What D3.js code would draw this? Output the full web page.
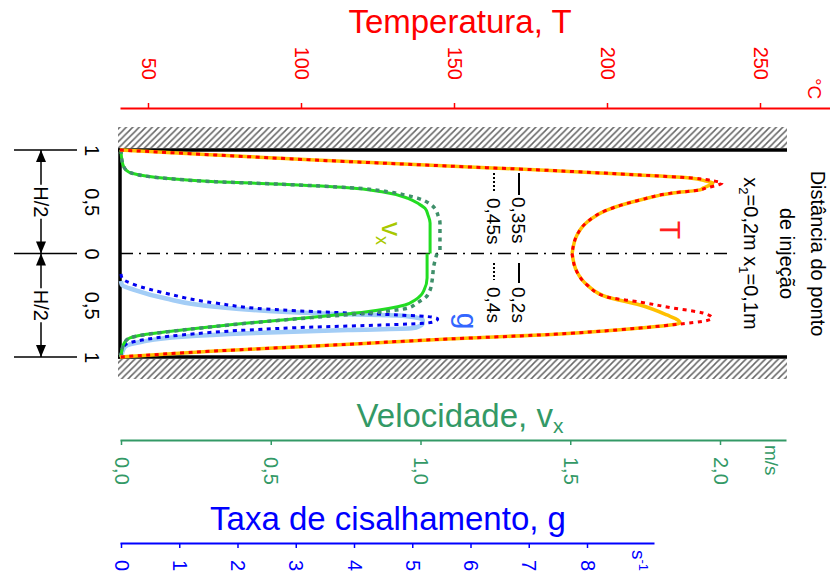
<!DOCTYPE html>
<html>
<head>
<meta charset="utf-8">
<script src="https://cdn.jsdelivr.net/npm/d3@7"></script>
<style>
body{margin:0;background:#fff}
svg{display:block;font-family:"Liberation Sans",Arial,sans-serif}
</style>
</head>
<body>
<div id="chart"></div>
<script>
// position across channel: 1 = upper wall, 0 = centre, -1 = lower wall
var posTicks = [1, 0.5, 0, -0.5, -1];
var posLabels = ["1", "0,5", "0", "0,5", "1"];
var tempTicks = [50, 100, 150, 200, 250];
var velTicks = [0, 0.5, 1, 1.5, 2];
var velLabels = ["0,0", "0,5", "1,0", "1,5", "2,0"];
var shearTicks = [0, 1, 2, 3, 4, 5, 6, 7, 8];

// upper half (x2 = 0,2 m): solid 0,35 s, dotted 0,45 s
var posUpperT = [1, 0.952, 0.903, 0.845, 0.807, 0.758, 0.729, 0.700, 0.681, 0.662, 0.633, 0.614, 0.585, 0.517, 0.420, 0.304, 0.179, 0];
var tempUpper035 = [40.8, 71.9, 104.6, 148.0, 178.1, 210.8, 227.1, 232.4, 234.6, 233.7, 231.4, 230.4, 221.6, 210.8, 200.0, 193.5, 190.2, 188.6];
var tempUpper045 = [40.8, 71.9, 104.6, 148.0, 178.1, 210.8, 227.8, 235.0, 237.6, 236.3, 232.4, 230.4, 221.6, 210.8, 200.0, 193.5, 190.2, 188.6];

var posUpperV035 = [1, 0.903, 0.855, 0.807, 0.775, 0.727, 0.694, 0.669, 0.636, 0.597, 0.533, 0.478, 0.437, 0.372, 0.295, 0];
var velUpper035 = [0, 0.003, 0.007, 0.017, 0.037, 0.147, 0.314, 0.538, 0.758, 0.871, 0.958, 0.995, 1.015, 1.025, 1.032, 1.032];
var posUpperV045 = [1, 0.903, 0.855, 0.807, 0.775, 0.727, 0.694, 0.669, 0.636, 0.597, 0.565, 0.533, 0.478, 0.437, 0.372, 0.295, 0];
var velUpper045 = [0, 0.003, 0.007, 0.017, 0.037, 0.147, 0.314, 0.538, 0.765, 0.891, 0.948, 0.992, 1.032, 1.048, 1.058, 1.065, 1.065];

// lower half (x1 = 0,1 m): solid 0,2 s, dotted 0,4 s
var posLowerT02 = [0, -0.179, -0.304, -0.420, -0.498, -0.594, -0.643, -0.671, -0.720, -0.758, -0.787, -0.826, -0.894, -0.942, -1];
var tempLower02 = [188.6, 190.2, 193.5, 200.0, 210.8, 219.6, 223.2, 223.9, 210.8, 194.4, 178.1, 148.0, 104.6, 71.9, 40.8];
var posLowerT04 = [0, -0.179, -0.304, -0.420, -0.469, -0.527, -0.575, -0.623, -0.652, -0.681, -0.720, -0.758, -0.787, -0.826, -0.894, -0.942, -1];
var tempLower04 = [188.6, 190.2, 193.5, 200.0, 210.8, 221.6, 231.4, 234.3, 232.0, 223.9, 210.8, 194.4, 178.1, 148.0, 104.6, 71.9, 40.8];

var posLowerV02 = [0, -0.111, -0.237, -0.353, -0.401, -0.449, -0.498, -0.565, -0.614, -0.671, -0.739, -0.787, -0.816, -0.855, -0.932, -1];
var velLower02 = [1.022, 1.022, 1.022, 1.012, 1.002, 0.982, 0.948, 0.815, 0.648, 0.424, 0.204, 0.070, 0.030, 0.013, 0.003, 0];
var posLowerV04 = [0, -0.111, -0.275, -0.353, -0.430, -0.478, -0.527, -0.565, -0.614, -0.671, -0.739, -0.787, -0.816, -0.855, -0.932, -1];
var velLower04 = [1.055, 1.045, 1.038, 1.032, 1.015, 0.988, 0.958, 0.865, 0.658, 0.431, 0.207, 0.073, 0.030, 0.013, 0.003, 0];

var posLowerG02 = [-0.266, -0.304, -0.353, -0.433, -0.514, -0.562, -0.587, -0.599, -0.618, -0.643, -0.671, -0.700, -0.723, -0.739, -0.771, -0.804, -0.852, -0.900, -0.964, -1];
var shearLower02 = [0, 0.017, 0.240, 0.755, 1.612, 2.762, 3.894, 4.751, 5.060, 5.180, 5.180, 5.129, 4.991, 3.894, 2.178, 1.046, 0.360, 0.069, 0.017, 0];
var posLowerG04 = [-0.198, -0.237, -0.304, -0.382, -0.478, -0.546, -0.575, -0.594, -0.614, -0.633, -0.652, -0.671, -0.691, -0.710, -0.739, -0.787, -0.836, -0.884, -0.932, -1];
var shearLower04 = [0, 0.017, 0.240, 0.755, 1.612, 2.762, 3.894, 4.751, 5.334, 5.437, 5.403, 5.266, 4.477, 3.328, 2.178, 1.046, 0.360, 0.069, 0.017, 0];

var W = 830, H = 575;
var svg = d3.select("#chart").append("svg").attr("width", W).attr("height", H);

var yScale = d3.scaleLinear().domain([-1, 1]).range([357, 150]);
var tScale = d3.scaleLinear().domain([50, 250]).range([148, 760]);
var vScale = d3.scaleLinear().domain([0, 2]).range([121, 720]);
var gScale = d3.scaleLinear().domain([0, 8]).range([121, 587]);

var boxL = 120, boxR = 787, yMid = yScale(0);

// hatch
var defs = svg.append("defs");
var pat = defs.append("pattern").attr("id", "hatch").attr("patternUnits", "userSpaceOnUse")
    .attr("width", 6.5).attr("height", 6.5);
pat.append("path").attr("d", "M-1,1 l2,-2 M0,6.5 l6.5,-6.5 M5.5,7.5 l2,-2")
    .attr("stroke", "#666").attr("stroke-width", 1.5);
svg.append("rect").attr("x", 118).attr("y", 127).attr("width", boxR - 118).attr("height", 21).attr("fill", "url(#hatch)");
svg.append("rect").attr("x", 118).attr("y", 359).attr("width", boxR - 118).attr("height", 20).attr("fill", "url(#hatch)");

// walls
svg.append("line").attr("x1", 118).attr("x2", boxR).attr("y1", yScale(1)).attr("y2", yScale(1)).attr("stroke", "#000").attr("stroke-width", 3.5);
svg.append("line").attr("x1", 118).attr("x2", boxR).attr("y1", yScale(-1)).attr("y2", yScale(-1)).attr("stroke", "#000").attr("stroke-width", 3.5);
svg.append("line").attr("x1", boxL).attr("x2", boxL).attr("y1", yScale(1) - 1.7).attr("y2", yScale(-1) + 1.7).attr("stroke", "#000").attr("stroke-width", 3.5);

// centre line
svg.append("line").attr("x1", boxL).attr("x2", 730).attr("y1", yMid).attr("y2", yMid)
    .attr("stroke", "#000").attr("stroke-width", 1.5).attr("stroke-dasharray", "13,6,2,6");

function rotText(g, x, y, str, size, color, anchor) {
    return g.append("text")
        .attr("transform", "translate(" + x + "," + y + ") rotate(90)")
        .attr("dy", "0.35em")
        .attr("text-anchor", anchor)
        .attr("fill", color)
        .style("font-size", size + "px")
        .text(str);
}

// curves
function drawCurve(pos, vals, scale, color, width, dash) {
    var line = d3.line()
        .x(function (d) { return scale(d[1]); })
        .y(function (d) { return yScale(d[0]); })
        .curve(d3.curveMonotoneY);
    var p = svg.append("path").datum(d3.zip(pos, vals))
        .attr("d", line).attr("fill", "none")
        .attr("stroke", color).attr("stroke-width", width);
    if (dash) p.attr("stroke-dasharray", dash);
    return p;
}

drawCurve(posLowerG02, shearLower02, gScale, "#a3cdf6", 4.5);
drawCurve(posLowerG04, shearLower04, gScale, "#0000ee", 3, "4,4.5");

drawCurve(posUpperV035, velUpper035, vScale, "#22dd22", 3);
drawCurve(posUpperV045, velUpper045, vScale, "#3f8f6a", 3.5, "4,4.5");
drawCurve(posLowerV02, velLower02, vScale, "#22dd22", 3);
drawCurve(posLowerV04, velLower04, vScale, "#3f8f6a", 3.5, "4,4.5");

drawCurve(posUpperT, tempUpper035, tScale, "#ffc000", 3.5);
drawCurve(posUpperT, tempUpper045, tScale, "#ff0000", 3, "4,4.5");
drawCurve(posLowerT02, tempLower02, tScale, "#ffc000", 3.5);
drawCurve(posLowerT04, tempLower04, tScale, "#ff0000", 3, "4,4.5");

// curve labels
rotText(svg, 670, 230, "T", 30, "#ff2020", "middle");
rotText(svg, 467, 321, "g", 30, "#3366ff", "middle");
var vx = rotText(svg, 392, 222, "v", 28, "#a8c800", "start");
vx.append("tspan").attr("dy", 6).style("font-size", "18px").text("x");

// legend
var leg = svg.append("g");
leg.append("line").attr("x1", 519).attr("x2", 519).attr("y1", 173).attr("y2", 195).attr("stroke", "#000").attr("stroke-width", 2);
leg.append("line").attr("x1", 494).attr("x2", 494).attr("y1", 173).attr("y2", 193).attr("stroke", "#000").attr("stroke-width", 2).attr("stroke-dasharray", "2,2");
rotText(leg, 519, 197, "0,35s", 19, "#000", "start");
rotText(leg, 494, 198, "0,45s", 19, "#000", "start");
leg.append("line").attr("x1", 519).attr("x2", 519).attr("y1", 263).attr("y2", 283).attr("stroke", "#000").attr("stroke-width", 2);
leg.append("line").attr("x1", 494).attr("x2", 494).attr("y1", 263).attr("y2", 280).attr("stroke", "#000").attr("stroke-width", 2).attr("stroke-dasharray", "2,2");
rotText(leg, 519, 287, "0,2s", 19, "#000", "start");
rotText(leg, 494, 287, "0,4s", 19, "#000", "start");

// right note
rotText(svg, 818, yMid, "Distância do ponto", 20, "#000", "middle");
rotText(svg, 787, yMid, "de injeção", 20, "#000", "middle");
var note = rotText(svg, 751, yMid, "", 20, "#000", "middle");
note.append("tspan").text("x");
note.append("tspan").attr("dy", 5).style("font-size", "13px").text("2");
note.append("tspan").attr("dy", -5).text("=0,2m x");
note.append("tspan").attr("dy", 5).style("font-size", "13px").text("1");
note.append("tspan").attr("dy", -5).text("=0,1m");

// position labels on the left
var posAxis = svg.append("g").attr("transform", "translate(92,0)")
    .call(d3.axisLeft(yScale).tickValues(posTicks).tickSize(0)
        .tickFormat(function (d, i) { return posLabels[i]; }));
posAxis.select(".domain").remove();
posAxis.selectAll("text").attr("x", 0).attr("y", 0).attr("dy", "0.35em")
    .attr("text-anchor", "middle").attr("transform", "rotate(90)")
    .attr("fill", "#000").style("font-size", "20px").style("font-family", null);

// H/2 markers
var hm = svg.append("g").attr("stroke", "#000").attr("stroke-width", 1.5);
[1, 0, -1].forEach(function (p) {
    hm.append("line").attr("x1", 14).attr("x2", 77).attr("y1", yScale(p)).attr("y2", yScale(p));
});
var ax = 41;
[[yScale(1), yScale(0.5) - 17], [yScale(0.5) + 17, yScale(0)], [yScale(0), yScale(-0.5) - 17], [yScale(-0.5) + 17, yScale(-1)]]
    .forEach(function (s) {
        hm.append("line").attr("x1", ax).attr("x2", ax).attr("y1", s[0]).attr("y2", s[1]);
    });
function arrowHead(tipY, dir) {
    svg.append("path").attr("d", "M" + ax + "," + tipY + " L" + (ax - 5) + "," + (tipY + dir * 12) + " L" + (ax + 5) + "," + (tipY + dir * 12) + "Z")
        .attr("fill", "#000");
}
arrowHead(yScale(1), 1);
arrowHead(yScale(0), -1);
arrowHead(yScale(0), 1);
arrowHead(yScale(-1), -1);
rotText(svg, ax, yScale(0.5), "H/2", 20, "#000", "middle");
rotText(svg, ax, yScale(-0.5), "H/2", 20, "#000", "middle");

// temperature axis (top)
var tAxisScale = tScale.copy().domain([tScale.invert(120), tScale.invert(830)]).range([120, 830]);
var tAxis = svg.append("g").attr("transform", "translate(0,108)").attr("color", "#ff0000")
    .call(d3.axisTop(tAxisScale).tickValues(tempTicks).tickSize(5).tickSizeOuter(0));
tAxis.select(".domain").attr("stroke-width", 2);
tAxis.selectAll(".tick line").attr("stroke-width", 1.5);
tAxis.selectAll("text").attr("x", 0).attr("y", 0).attr("dy", "0.35em")
    .attr("text-anchor", "end").attr("transform", "translate(0,-28) rotate(90)")
    .style("font-size", "20px").style("font-family", null);
rotText(svg, 815, 78, "°C", 19, "#ff0000", "start");
svg.append("text").attr("x", 460).attr("y", 33).attr("text-anchor", "middle")
    .attr("fill", "#ff0000").style("font-size", "33px").text("Temperatura, T");

// velocity axis
var green = "#339966";
var vAxisScale = vScale.copy().domain([vScale.invert(120), vScale.invert(786)]).range([120, 786]);
var vAxis = svg.append("g").attr("transform", "translate(0,440)").attr("color", green)
    .call(d3.axisBottom(vAxisScale).tickValues(velTicks).tickSize(5).tickSizeOuter(0)
        .tickFormat(function (d, i) { return velLabels[i]; }));
vAxis.select(".domain").attr("stroke-width", 2);
vAxis.selectAll(".tick line").attr("stroke-width", 1.5);
vAxis.selectAll("text").attr("x", 0).attr("y", 0).attr("dy", "0.35em")
    .attr("text-anchor", "start").attr("transform", "translate(0,17) rotate(90)")
    .style("font-size", "20px").style("font-family", null);
rotText(svg, 772, 445, "m/s", 19, green, "start");
var vt = svg.append("text").attr("x", 460).attr("y", 427).attr("text-anchor", "middle")
    .attr("fill", green).style("font-size", "33px").text("Velocidade, v");
vt.append("tspan").attr("dy", 6).style("font-size", "21px").text("x");

// shear rate axis
var blue = "#0000ff";
var gAxisScale = gScale.copy().domain([gScale.invert(120), gScale.invert(654)]).range([120, 654]);
var gAxis = svg.append("g").attr("transform", "translate(0,543)").attr("color", blue)
    .call(d3.axisBottom(gAxisScale).tickValues(shearTicks).tickSize(5).tickSizeOuter(0));
gAxis.select(".domain").attr("stroke-width", 2);
gAxis.selectAll(".tick line").attr("stroke-width", 1.5);
gAxis.selectAll("text").attr("x", 0).attr("y", 0).attr("dy", "0.35em")
    .attr("text-anchor", "start").attr("transform", "translate(0,17) rotate(90)")
    .style("font-size", "20px").style("font-family", null);
var su = rotText(svg, 639, 550, "s", 19, blue, "start");
su.append("tspan").attr("dy", -7).style("font-size", "13px").text("-1");
svg.append("text").attr("x", 388).attr("y", 530).attr("text-anchor", "middle")
    .attr("fill", blue).style("font-size", "33px").text("Taxa de cisalhamento, g");
</script>
</body>
</html>
